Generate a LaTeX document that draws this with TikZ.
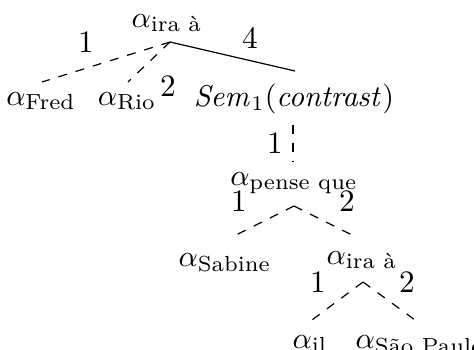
\documentclass[tikz,border=0pt]{standalone}
\usepackage{amsmath}
\begin{document}
\begin{tikzpicture}[x=0.33333pt,y=-0.33333pt,
  every node/.style={font=\fontsize{10.4pt}{12pt}\selectfont},
  lbl/.style={inner sep=0pt,anchor=base},
  num/.style={inner sep=0pt},
  dsh/.style={dashed,line width=0.4pt},
  sld/.style={line width=0.4pt}]
\useasboundingbox (0,0) rectangle (474,350);
% nodes
\node[lbl] (ira1) at (167,27) {$\alpha_{\text{ira à}}$};
\node[lbl] (fred) at (41,105) {$\alpha_{\text{Fred}}$};
\node[lbl] (rio) at (127,105) {$\alpha_{\text{Rio}}$};
\node[lbl] (sem) at (294,106) {$\mathit{Sem}_1(\mathit{contrast})$};
\node[lbl] (pense) at (294,185) {$\alpha_{\text{pense que}}$};
\node[lbl] (sabine) at (225,266) {$\alpha_{\text{Sabine}}$};
\node[lbl] (ira2) at (362,264) {$\alpha_{\text{ira à}}$};
\node[lbl] (il) at (310,348) {$\alpha_{\text{il}}$};
\node[inner sep=0pt,anchor=base west] (sao) at (355,348) {$\alpha_{\text{São Paulo}}$};
% coordinates
\coordinate (b1) at (170,42);
\coordinate (e1) at (42,82);
\coordinate (e2) at (128,82);
\coordinate (e3) at (295,71);
\coordinate (v1) at (293,125);
\coordinate (v2) at (293,162);
\coordinate (b2) at (294,206);
\coordinate (e4) at (230,238);
\coordinate (e5) at (358,238);
\coordinate (b3) at (363,282);
\coordinate (e6) at (312,320);
\coordinate (e7) at (415,320);
% connectors
\draw[dsh] (b1) -- (e1);
\draw[dsh] (b1) -- (e2);
\draw[sld] (b1) -- (e3);
\draw[dsh] (v1) -- (v2);
\draw[dsh] (b2) -- (e4);
\draw[dsh] (b2) -- (e5);
\draw[dsh] (b3) -- (e6);
\draw[dsh] (b3) -- (e7);
% numbers
\node[num] (n1) at (86,42) {1};
\node[num] (n4) at (250,38) {4};
\node[num] (n2) at (168,86) {2};
\node[num] (n5) at (275,143) {1};
\node[num] (n6) at (239,201) {1};
\node[num] (n7) at (347,201) {2};
\node[num] (n8) at (318,282) {1};
\node[num] (n9) at (407,282) {2};
\end{tikzpicture}
\end{document}
